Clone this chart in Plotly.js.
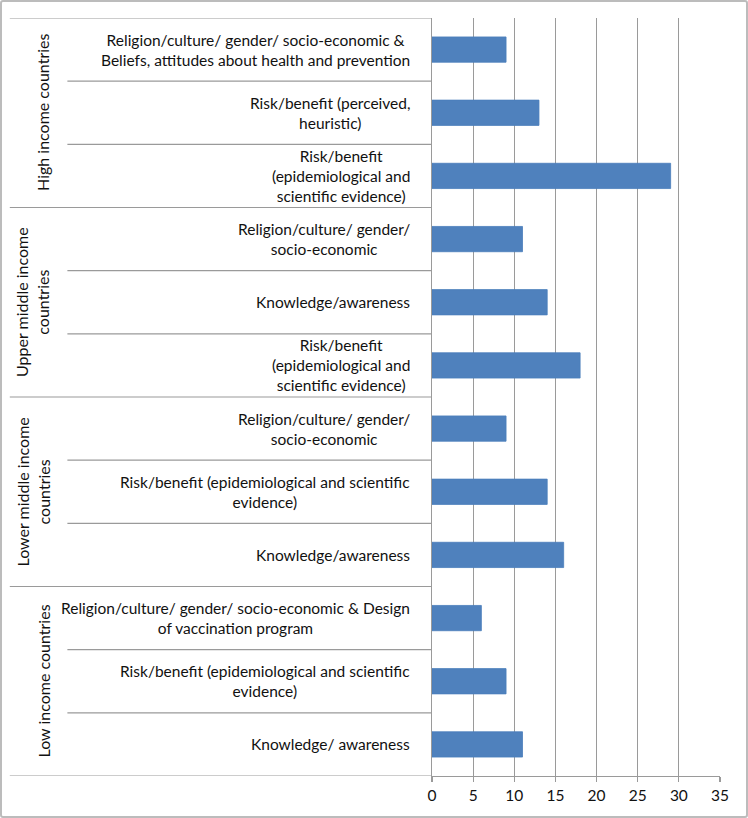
<!DOCTYPE html>
<html>
<head>
<meta charset="utf-8">
<script src="https://cdn.plot.ly/plotly-3.0.1.min.js"></script>
<style>
  html, body { margin: 0; padding: 0; background: #fff; }
  #wrap { position: relative; width: 748px; height: 818px; }
  #chart { width: 748px; height: 818px; }
  #frame { position: absolute; left: 0; top: 0; width: 748px; height: 818px; box-sizing: border-box;
           border: 2px solid #bcbcbc; border-radius: 3px; pointer-events: none; }
</style>
</head>
<body>
<div id="wrap"><div id="chart"></div><div id="frame"></div></div>
<script>
// Income groups, listed bottom to top (as drawn)
const groups = ["Low income countries", "Lower middle income countries", "Upper middle income countries", "High income countries"];
const groupLabels = ["Low income countries", "Lower middle income<br>countries", "Upper middle income<br>countries", "High income countries"];

// Category rows, bottom to top
const rowGroup = [
  "Low income countries", "Low income countries", "Low income countries",
  "Lower middle income countries", "Lower middle income countries", "Lower middle income countries",
  "Upper middle income countries", "Upper middle income countries", "Upper middle income countries",
  "High income countries", "High income countries", "High income countries"
];
const rowFactor = [
  "Knowledge/ awareness",
  "Risk/benefit (epidemiological and scientific<br>evidence)",
  "Religion/culture/ gender/ socio-economic & Design<br>of vaccination program",
  "Knowledge/awareness",
  "Risk/benefit (epidemiological and scientific<br>evidence)",
  "Religion/culture/ gender/<br>socio-economic",
  "Risk/benefit<br>(epidemiological and<br>scientific evidence)",
  "Knowledge/awareness",
  "Religion/culture/ gender/<br>socio-economic",
  "Risk/benefit<br>(epidemiological and<br>scientific evidence)",
  "Risk/benefit (perceived,<br>heuristic)",
  "Religion/culture/ gender/ socio-economic &<br>Beliefs, attitudes about health and prevention"
];
const counts = [11, 9, 6, 16, 14, 9, 18, 14, 11, 29, 13, 9];

const xTickValues = [0, 5, 10, 15, 20, 25, 30, 35];

const keys = rowGroup.map((g, i) => g + " | " + rowFactor[i]);

const font = { family: "Lato, 'Open Sans', sans-serif", size: 15.5, color: "#111" };
const groupFont = { family: "Lato, 'Open Sans', sans-serif", size: 16, color: "#111" };
const lineCol = "#9a9a9a";

// Table-like category axis: separators and labels
const shapes = [];
const annotations = [];
const xInner = -1.266, xOuter = -1.466;
for (let i = 0; i <= keys.length; i++) {
  const isGroupEdge = (i === 0 || i === keys.length || rowGroup[i] !== rowGroup[i - 1]);
  shapes.push({
    type: "line", xref: "paper", yref: "y",
    x0: isGroupEdge ? xOuter : xInner, x1: 0,
    y0: i - 0.5, y1: i - 0.5,
    line: { color: lineCol, width: 1.2 }
  });
}
keys.forEach((k, i) => {
  annotations.push({
    xref: "paper", yref: "y", x: -0.07, y: k, xanchor: "right", yanchor: "middle",
    text: rowFactor[i], showarrow: false, align: "center", font: font
  });
});
groups.forEach((g, gi) => {
  const idx = rowGroup.map((r, i) => r === g ? i : -1).filter(i => i >= 0);
  const mid = keys[idx[Math.floor(idx.length / 2)]];
  annotations.push({
    xref: "paper", yref: "y", x: -1.31, y: mid, xanchor: "right", yanchor: "middle",
    text: groupLabels[gi], showarrow: false, textangle: -90, align: "center", font: groupFont
  });
});

const trace = {
  type: "bar", orientation: "h",
  x: counts, y: keys,
  marker: { color: "#4F81BD", line: { color: "#4A7EBB", width: 0.8 } },
  hoverinfo: "x+y"
};

const layout = {
  width: 748, height: 818,
  margin: { l: 432, r: 28, t: 18, b: 42 },
  paper_bgcolor: "#fff", plot_bgcolor: "#fff",
  font: font,
  showlegend: false,
  bargap: 0.6,
  xaxis: {
    range: [0, 35], tickvals: xTickValues, ticktext: xTickValues.map(String),
    ticks: "outside", ticklen: 5, tickcolor: lineCol, tickwidth: 1.2,
    showline: true, linecolor: lineCol, linewidth: 1.2,
    showgrid: true, gridcolor: lineCol, gridwidth: 1.2,
    zeroline: false, tickfont: font, fixedrange: true
  },
  yaxis: {
    type: "category", categoryorder: "array", categoryarray: keys,
    range: [-0.5, keys.length - 0.5],
    showticklabels: false, ticks: "", showgrid: false, zeroline: false,
    showline: true, linecolor: lineCol, linewidth: 1.2, fixedrange: true
  },
  shapes: shapes,
  annotations: annotations
};

Plotly.newPlot("chart", [trace], layout, { displayModeBar: false, staticPlot: true });
</script>
</body>
</html>
